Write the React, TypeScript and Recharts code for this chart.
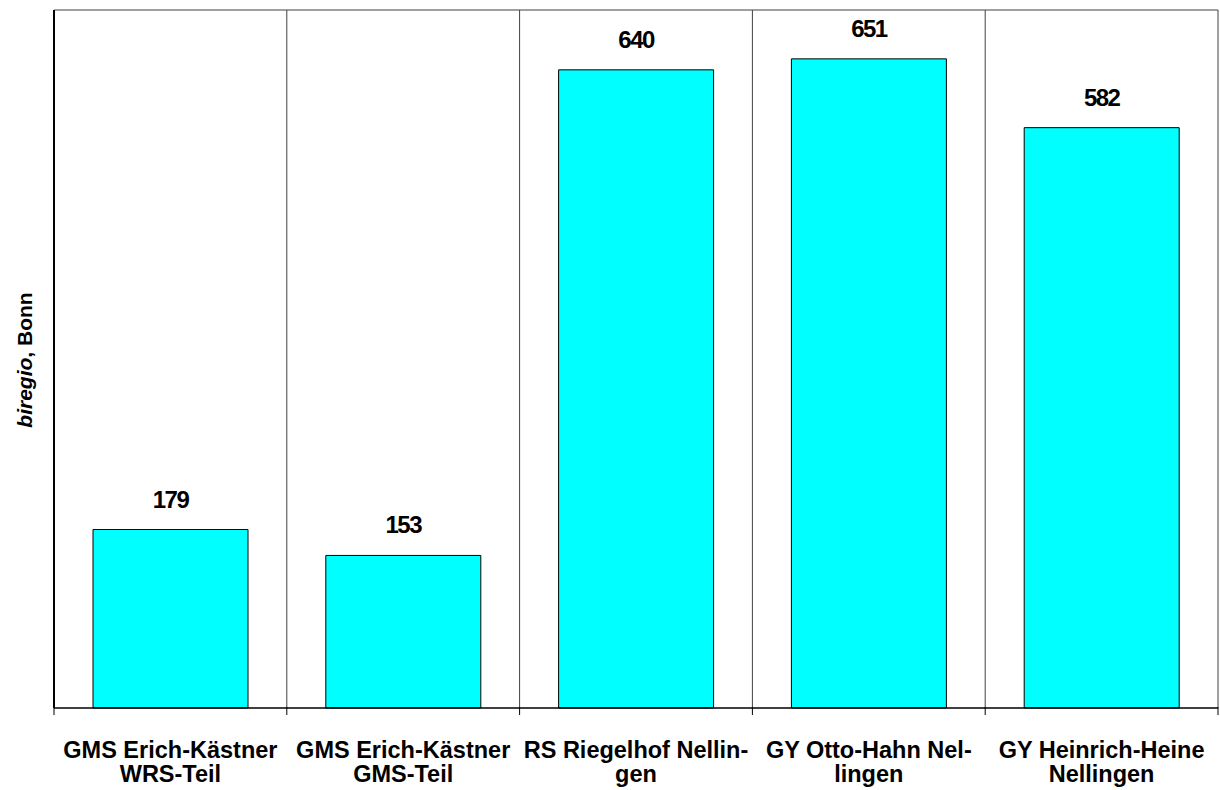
import { BarChart, Bar, XAxis, YAxis, CartesianGrid, ReferenceLine, LabelList } from 'recharts';

const FONT = "Arial, 'Liberation Sans', sans-serif";

const schoolsLine1 = [
  'GMS Erich-Kästner',
  'GMS Erich-Kästner',
  'RS Riegelhof Nellin-',
  'GY Otto-Hahn Nel-',
  'GY Heinrich-Heine',
];
const schoolsLine2 = ['WRS-Teil', 'GMS-Teil', 'gen', 'lingen', 'Nellingen'];
const pupils = [179, 153, 640, 651, 582];

const data = pupils.map((value, i) => ({
  name: schoolsLine1[i] + ' ' + schoolsLine2[i],
  value,
}));

const W = 1220;
const H = 790;
const PLOT_LEFT = 54;
const PLOT_RIGHT = 2;
const BAND = (W - PLOT_LEFT - PLOT_RIGHT) / schoolsLine1.length;

// label + boundary tick marks (Excel style, ticks between categories)
const CategoryTick = ({ x, y, index }: { x?: number; y?: number; index?: number }) => {
  const i = index ?? 0;
  const cx = x ?? 0;
  const ty = y ?? 0;
  const last = i === schoolsLine1.length - 1;
  return (
    <g>
      <line x1={cx - BAND / 2} x2={cx - BAND / 2} y1={ty - 1} y2={ty + 7} stroke="#000" />
      {last && <line x1={cx + BAND / 2} x2={cx + BAND / 2} y1={ty - 1} y2={ty + 7} stroke="#000" />}
      <text
        x={cx}
        y={ty + 50}
        textAnchor="middle"
        fontFamily={FONT}
        fontWeight="bold"
        fontSize={23.5}
        fill="#000"
      >
        <tspan x={cx}>{schoolsLine1[i]}</tspan>
        <tspan x={cx} dy={24}>
          {schoolsLine2[i]}
        </tspan>
      </text>
    </g>
  );
};

const YLabel = () => (
  <text
    transform="translate(32, 360) rotate(-90)"
    textAnchor="middle"
    fontFamily={FONT}
    fontWeight="bold"
    fontSize={21}
    fill="#000"
  >
    <tspan fontStyle="italic">biregio</tspan>
    <tspan>, Bonn</tspan>
  </text>
);

const boundaryLines = ({ offset }: { offset: { left: number; width: number } }) =>
  schoolsLine1.map((_, i) => offset.left + ((i + 1) * offset.width) / schoolsLine1.length);

export default function App() {
  return (
    <div style={{ position: 'absolute', left: 0, top: 0, width: W, height: H, background: '#fff' }}>
      <BarChart
        width={W}
        height={H}
        data={data}
        margin={{ top: 10, right: PLOT_RIGHT, left: 0, bottom: 0 }}
      >
        <CartesianGrid
          horizontal={false}
          stroke="#404040"
          verticalCoordinatesGenerator={boundaryLines as any}
        />
        <XAxis
          dataKey="name"
          height={82}
          interval={0}
          axisLine={{ stroke: '#000', strokeWidth: 1.5 }}
          tickLine={false}
          tickSize={0}
          tickMargin={0}
          tick={<CategoryTick />}
        />
        <YAxis
          width={PLOT_LEFT}
          domain={[0, 700]}
          ticks={[]}
          tick={false}
          tickLine={false}
          axisLine={{ stroke: '#000', strokeWidth: 2 }}
          label={{ content: <YLabel /> }}
        />
        <ReferenceLine y={700} stroke="#404040" />
        <Bar
          dataKey="value"
          fill="#00FFFF"
          stroke="#000"
          strokeWidth={1}
          barSize={155}
          isAnimationActive={false}
        >
          <LabelList
            dataKey="value"
            position="top"
            offset={22}
            fill="#000"
            fontFamily={FONT}
            fontWeight="bold"
            fontSize={24}
            letterSpacing={-1.5}
          />
        </Bar>
      </BarChart>
    </div>
  );
}
